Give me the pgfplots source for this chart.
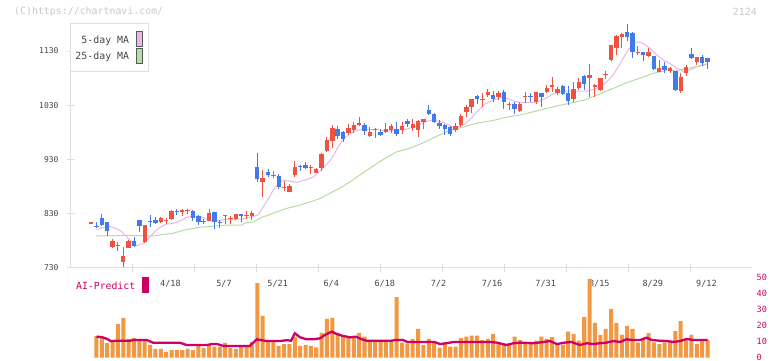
\documentclass[border=0pt]{standalone}
\usepackage{fontspec}
\setmainfont{DejaVu Sans Mono}
\usepackage{pgfplots}
\pgfplotsset{compat=1.18}
\usepackage{pgfplotstable}

\definecolor{upred}{RGB}{240,82,66}
\definecolor{dnblue}{RGB}{66,122,236}
\definecolor{volor}{RGB}{242,152,66}
\definecolor{aimag}{RGB}{204,0,102}
\definecolor{mapink}{RGB}{234,182,234}
\definecolor{magreen}{RGB}{180,220,164}
\definecolor{axgray}{RGB}{222,222,222}
\definecolor{txtgray}{RGB}{70,70,70}
\definecolor{wmgray}{RGB}{200,200,200}

% up (red) candles: index, open, high, low, close
\pgfplotstableread{
i O H L C
-1 812 814 812 814
3 769 783 766 780
4 771 778 762 773
5 741 769 732 752
6 767 781 766 780
9 778 810 777 809
12 815 824 813 823
13 816.5 822 812 818.5
14 820 836 819 835
16 834 838 826 836
17 835 838 829 837
21 817 838 817 832
24 825.5 828 811 827.5
25 819.5 826 812 821.5
26 820 830 819 829
28 825.5 835 820 827.5
29 825 835 818 831
31 889 911 861 895
33 899.5 909 895 901.5
35 877 890 872 879
36 871 884 870 881
37 901 928 898 916
40 914 920 903 916
41 906 914 905 912
42 915 942 909 940
43 946 972 943 966
44 965 994 952 988
47 979 995 975 988
48 984 999 979 994
49 993 1008 992 997
51 974 990 971 981
52 985 988 969 987
54 980 998 978 986
55 985 995 978 992
57 985 999 977 992
59 988 1004 983 995
60 984 1002 972 1001
61 1000 1005 986 1004
67 984 997 981 992
68 994 1014 990 1010
69 1017 1030 1009 1027
70 1026 1041 1015 1041
72 1039.5 1052 1026 1041.5
73 1049 1060 1045 1055
75 1045 1057 1040 1053
77 1031 1036 1021 1033
79 1020 1036 1017 1032
80 1045 1055 1034 1047
82 1036 1055 1032 1055
84 1055 1067 1052 1061
85 1064 1083 1055 1067
86 1052 1064 1049 1060
89 1041 1072 1036 1060
90 1061 1081 1058 1073
92 1081 1106 1045 1086
93 1064.5 1070 1046 1066.5
94 1059 1081 1056 1081
95 1086 1093 1078 1088
96 1113 1141 1112 1141
97 1135 1160 1123 1158
98 1156 1163 1135 1161
101 1126.5 1139 1123 1128.5
103 1121 1136 1119 1128
105 1092 1113 1091 1098
107 1093 1101 1089 1099
109 1056 1089 1053 1083
110 1090 1104 1084 1100.5
112 1110 1119 1104 1119
}\upc

% down (blue) candles: index, open, high, low, close
\pgfplotstableread{
i O H L C
0 808 815 803 806
1 822 830 807 809
2 814 815 789 799
7 780 788 768 770
8 818 819 797 808
10 817 828 805 815
11 818 824 812 813
15 835 838 828 833
18 835 836 817 823
19 826 828 809 815
20 817 820 812 815
22 833 833.5 802 814
23 815 818 803 813
27 829 830 815 825
30 916 942 888 894
32 907 912 897 901
34 900 903 876 880
38 918 920 909 916
39 920 925 912 914
45 986 992 968 974
46 981 982 963 968
50 994 997 975 982
53 980 986 974 975
56 986 999 974 977
58 1001 1004 990 995
62 1021 1030 1012 1013
63 1014 1015 998 1000
64 998 1003 987 992
65 994 996 976 986
66 990 992 974 977
71 1047 1049 1032 1041
74 1049 1056 1036 1041
76 1055 1058 1023 1036
78 1032 1036 1014 1023
81 1047 1052 1036 1045
83 1052 1052.5 1026 1046
87 1066 1067 1049 1051
88 1052 1066 1030 1038
91 1084 1086 1058 1070
99 1165 1180 1149 1155
100 1164 1165 1118 1128
102 1128 1128.5 1112 1123
104 1121 1121.5 1095 1097
106 1102 1110 1089 1095
108 1093 1093.5 1056 1058
111 1124.5 1136 1115 1117.5
113 1119 1123 1103 1107
114 1116.5 1117 1097 1110
}\dnc

% 5-day moving average
\pgfplotstableread{
i v
0 801
1.3 805
2.5 807
3.8 802
4.7 797
5.6 788
6.6 778
7.5 771
8.4 774
9.4 782
10.3 791
11.2 800
12.2 807
13.1 811
14.3 812
15.6 817
16.8 823
18.1 826
19.3 825
20.6 820
21.8 817
23 818
24.3 820
25.5 820
27.1 820
28.6 824
29.3 825
30.2 828
31.1 843
32.1 858
33 874
34 886
34.9 892
36.1 890
37.4 888
38.9 892
40.5 898
42.3 914
43.9 932
45.2 955
46.1 969
47.4 978
48.6 984
49.9 986
51.1 985
52.4 985
53.6 983
54.9 983
56.1 984
57.4 985
58.6 988
59.9 992
61.2 999
62.4 1002
63.7 1001
64.9 998
66.2 991
67.4 990
68.7 995
69.9 1006
71.2 1020
72.4 1032
73.7 1038
75.3 1044
76.5 1043
77.8 1038
79 1035
80.3 1035
81.5 1035
82.7 1038
84 1044
85.2 1051
86.5 1055
87.7 1056
89 1056
90.2 1056
91.5 1056
92.7 1059
93.9 1064
95.2 1073
96.4 1086
97.7 1107
99 1129
100.2 1144
101.1 1147
102 1144
103.3 1135
104.5 1123
105.8 1113
107 1107
108.3 1098
109.5 1092
110.7 1095
112 1101
113.2 1104
114 1107
}\mafive

% 25-day moving average
\pgfplotstableread{
i v
0 789
5.6 790
10.6 789
12.5 792
14.3 794
16.8 801
19.3 805
21.8 807
24.3 809
27.1 809
27.7 813
29.3 815
30.5 822
33 831
35.5 840
38 846
40.5 854
41.7 858
43.6 868
46.1 881
48.5 897
51 914
53.5 930
56 944
58.5 951
61 961
63.5 973
66 984
68.5 990
71 997
74 1002
76.5 1008
79 1012
81.5 1018
84 1024
86.5 1030
89 1035
91.5 1041
93.9 1051
96.4 1061
99 1072
101.4 1080
103.9 1089
106.4 1094
108.9 1095
111.4 1100
114 1106
}\matwentyfive

% volume
\pgfplotstableread{
i v
0 13.7
1 12.6
2 9.4
3 11.1
4 21.2
5 25.0
6 11.8
7 12.4
8 11.6
9 11.6
10 8.0
11 5.5
12 5.5
13 3.6
14 4.8
15 4.8
16 4.8
17 5.5
18 4.8
19 8.0
20 6.1
21 8.0
22 6.9
23 6.9
24 9.3
25 6.1
26 5.5
27 6.7
28 6.7
29 9.9
30 47.0
31 26.3
32 10.0
33 10.0
34 7.4
35 8.6
36 8.6
37 13.2
38 7.4
39 8.0
40 7.4
41 6.5
42 15.7
43 24.4
44 25.0
45 15.7
46 13.7
47 13.2
48 13.7
49 15.7
50 13.2
51 11.1
52 11.0
53 11.1
54 11.1
55 11.1
56 38.2
57 9.5
58 9.0
59 11.8
60 18.1
61 8.0
62 11.8
63 9.9
64 6.3
65 9.7
66 6.9
67 6.9
68 12.4
69 13.2
70 13.9
71 13.9
72 11.1
73 11.8
74 14.9
75 9.7
76 8.0
77 9.0
78 13.2
79 11.1
80 9.0
81 9.0
82 10.7
83 13.2
84 11.8
85 13.0
86 9.0
87 8.0
88 16.4
89 14.9
90 10.7
91 25.6
92 49.6
93 21.9
94 14.3
95 18.1
96 30.7
97 22.0
98 14.3
99 20.0
100 18.1
101 9.5
102 11.8
103 15.4
104 9.7
105 8.6
106 9.7
107 10.7
108 16.8
109 23.1
110 11.1
111 14.3
112 8.6
113 11.1
114 11.1
}\vol

% AI-Predict line
\pgfplotstableread{
i v
0 13.2
1 13.0
2 11.8
2.7 10.4
3.8 10.7
6.3 10.7
6.9 11.1
9.4 11.1
10.6 9.4
15.6 9.4
16.8 8.0
20.6 8.0
21.5 8.6
22.5 8.6
23.7 7.4
28.6 7.4
29.9 11.6
31.7 10.5
34.2 10.5
35.5 11.0
36.3 10.7
37 15.4
38 12.8
39.2 11.6
40.5 11.6
41.7 12.2
42.6 14.3
43.9 16.4
44.8 14.9
46 13.7
47.3 12.8
48.4 13.2
49.5 11.6
50.4 10.7
55 10.7
55.7 11.1
57.2 11.1
58 9.9
63 9.9
64.1 8.6
65.3 9.1
66.6 9.9
73.4 9.9
74.7 9.5
76.5 8.0
77.8 9.1
79 9.5
81.5 9.1
83.4 9.9
84.6 10.5
85.9 8.6
87.4 9.5
88.6 9.9
90.2 8.0
91.5 9.1
92.7 8.6
93.9 9.1
95.2 9.5
96.4 10.5
97.7 9.9
98.9 11.6
100.1 11.1
101.4 11.1
102.6 12.6
103.6 11.1
105.1 10.7
106.4 10.5
107.6 9.9
108.9 10.5
110.1 11.8
111.4 11.1
114 11.1
}\aipred

\begin{document}
\begin{tikzpicture}
\path[use as bounding box] (0pt,0pt) rectangle (772pt,361pt);
\node[anchor=west, inner sep=0pt, text=wmgray, font=\fontsize{9.9}{11}\selectfont] at (14pt,349pt) {(C)https://chartnavi.com/};
\node[anchor=east, inner sep=0pt, text=wmgray, font=\fontsize{9.9}{11}\selectfont] at (757pt,349pt) {2124};

\begin{axis}[
  at={(70.7pt,93pt)}, anchor=south west,
  scale only axis, width=681pt, height=244pt,
  xmin=-4.81, xmax=122.24, ymin=730, ymax=1179.8,
  clip=false,
  axis x line*=bottom, axis y line*=left,
  axis line style={draw=axgray, line width=1pt},
  tick style={draw=axgray, line width=1pt},
  major tick length=8pt, tick align=center,
  xtick={6.75,18.25,29.81,41.38,52.97,64.5,76.1,87.6,99.2,110.75},
  xticklabels={,,,,,,,,,},
  extra x ticks={13.8,23.8,33.8,43.8,53.8,63.8,73.8,83.8,93.8,103.8,113.8},
  extra x tick labels={4/18,5/7,5/21,6/4,6/18,7/2,7/16,7/31,8/15,8/29,9/12},
  extra x tick style={tick style={draw=none}, tick label style={yshift=-5pt}},
  x tick label style={font=\fontsize{8.5}{9}\selectfont, text=txtgray},
  ytick={730,830,930,1030,1130},
  yticklabels={730,830,930,1030,1130},
  y tick label style={font=\fontsize{8}{9}\selectfont, text=txtgray, xshift=-4.7pt},
]
\addplot[mapink, line width=1pt] table[x=i,y=v] {\mafive};
\addplot[magreen, line width=1pt] table[x=i,y=v] {\matwentyfive};
% wicks
\addplot[draw=none, forget plot, error bars/.cd, y dir=minus, y explicit, error mark=none,
  error bar style={draw=upred, line width=1pt}]
  table[x=i, y=H, y error minus expr=\thisrow{H}-\thisrow{L}] {\upc};
\addplot[draw=none, forget plot, error bars/.cd, y dir=minus, y explicit, error mark=none,
  error bar style={draw=dnblue, line width=1pt}]
  table[x=i, y=H, y error minus expr=\thisrow{H}-\thisrow{L}] {\dnc};
% bodies
\addplot[draw=none, forget plot, error bars/.cd, y dir=minus, y explicit, error mark=none,
  error bar style={draw=upred, line width=4.4pt}]
  table[x=i, y=C, y error minus expr=\thisrow{C}-\thisrow{O}] {\upc};
\addplot[draw=none, forget plot, error bars/.cd, y dir=minus, y explicit, error mark=none,
  error bar style={draw=dnblue, line width=4.4pt}]
  table[x=i, y=O, y error minus expr=\thisrow{O}-\thisrow{C}] {\dnc};
\end{axis}

\begin{axis}[
  at={(70.7pt,3.3pt)}, anchor=south west,
  scale only axis, width=681pt, height=79.4pt,
  xmin=-4.81, xmax=122.24, ymin=0, ymax=50,
  clip=false,
  axis x line=none, axis y line*=right,
  y axis line style={draw=none},
  ytick={0,10,20,30,40,50},
  yticklabels={0,10,20,30,40,50},
  ytick style={draw=none}, major tick length=0pt,
  y tick label style={font=\fontsize{8.5}{9}\selectfont, text=aimag, anchor=west, inner sep=0pt, xshift=4.8pt, yshift=0.6pt},
]
\addplot[ybar, bar width=0.75, fill=volor, draw=none] table[x=i,y=v] {\vol};
\addplot[aimag, line width=2.3pt] table[x=i,y=v] {\aipred};
\end{axis}

% MA legend
\draw[axgray, line width=1pt, fill=white] (70.7pt,289.7pt) rectangle (148.7pt,337pt);
\node[anchor=east, inner sep=0pt, text=txtgray, font=\fontsize{9.9}{11}\selectfont] at (129.3pt,320.5pt) {5-day MA};
\node[anchor=east, inner sep=0pt, text=txtgray, font=\fontsize{9.9}{11}\selectfont] at (129.3pt,304.3pt) {25-day MA};
\draw[fill=mapink, draw=black!65, line width=0.8pt] (136.7pt,314.7pt) rectangle (142.7pt,330pt);
\draw[fill=magreen, draw=black!65, line width=0.8pt] (136.7pt,297.7pt) rectangle (142.7pt,312.7pt);
% AI-Predict legend
\node[anchor=west, inner sep=0pt, text=aimag, font=\fontsize{9.8}{11}\selectfont] at (76pt,75pt) {AI-Predict};
\fill[aimag] (142.3pt,68.3pt) rectangle (149pt,83.7pt);
\end{tikzpicture}
\end{document}
